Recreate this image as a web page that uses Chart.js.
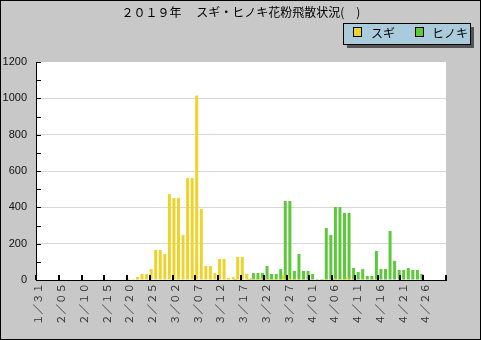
<!DOCTYPE html>
<html><head><meta charset="utf-8">
<script src="https://cdn.jsdelivr.net/npm/chart.js@4/dist/chart.umd.min.js"></script>
<style>html,body{margin:0;padding:0;background:#c8c8c8;overflow:hidden}canvas{display:block}</style>
</head><body>
<canvas id="c" width="481" height="340"></canvas>
<script>
const titleText = '２０１９年　 スギ・ヒノキ花粉飛散状況(　)';
const seriesNames = ['スギ', 'ヒノキ'];
const seriesColors = ['#eed32a', '#5cc83a'];

const categories = [
 '1/31',
 '2/01','2/02','2/03','2/04','2/05','2/06','2/07','2/08','2/09','2/10',
 '2/11','2/12','2/13','2/14','2/15','2/16','2/17','2/18','2/19','2/20',
 '2/21','2/22','2/23','2/24','2/25','2/26','2/27','2/28',
 '3/01','3/02','3/03','3/04','3/05','3/06','3/07','3/08','3/09','3/10',
 '3/11','3/12','3/13','3/14','3/15','3/16','3/17','3/18','3/19','3/20',
 '3/21','3/22','3/23','3/24','3/25','3/26','3/27','3/28','3/29','3/30','3/31',
 '4/01','4/02','4/03','4/04','4/05','4/06','4/07','4/08','4/09','4/10',
 '4/11','4/12','4/13','4/14','4/15','4/16','4/17','4/18','4/19','4/20',
 '4/21','4/22','4/23','4/24','4/25','4/26','4/27','4/28','4/29','4/30'
];

const tickLabels = ['１／３１','２／０５','２／１０','２／１５','２／２０','２／２５','３／０２','３／０７','３／１２',
 '３／１７','３／２２','３／２７','４／０１','４／０６','４／１１','４／１６','４／２１','４／２６'];

const sugi = [
 0,
 0,0,0,0,0,0,0,0,0,0,
 0,0,0,0,0,0,0,0,0,5,
 5,16,33,33,60,165,165,143,
 473,451,451,248,561,561,1015,391,77,77,
 38,116,116,11,16,127,127,33,11,5,
 11,22,5,5,5,27,27,5,5,5,5,
 5,0,0,5,5,11,5,5,16,5,
 3,3,3,3,5,0,0,0,0,0,
 0,0,0,0,0,0,0,0,0,0
];

const hinoki = [
 0,
 0,0,0,0,0,0,0,0,0,0,
 0,0,0,0,0,0,0,0,0,0,
 0,0,0,0,0,0,0,0,
 0,0,0,0,0,0,0,0,0,0,
 0,0,0,0,5,0,0,5,38,38,
 38,77,33,33,60,435,435,50,143,50,50,
 33,5,5,286,248,402,402,369,369,66,
 44,60,22,22,160,60,60,270,105,55,
 55,66,55,55,33,0,0,0,0,0
];

const yMin = 0, yMax = 1200, yStep = 200, yMinorStep = 100;

const decor = {
  id: 'decor',
  beforeDraw(chart) {
    const ctx = chart.ctx, a = chart.chartArea;
    ctx.save();
    ctx.fillStyle = '#c8c8c8';
    ctx.fillRect(0, 0, chart.width, chart.height);
    ctx.fillStyle = '#ffffff';
    ctx.fillRect(a.left, a.top, a.right - a.left, a.bottom - a.top);
    ctx.restore();
  },
  afterDraw(chart) {
    const ctx = chart.ctx, a = chart.chartArea;
    const xs = chart.scales.x, ys = chart.scales.y;
    ctx.save();
    ctx.strokeStyle = '#000';
    ctx.lineWidth = 1;
    for (let v = yMin; v <= yMax; v += yMinorStep) {
      const py = Math.round(ys.getPixelForValue(v)) + 0.5;
      ctx.beginPath();
      ctx.moveTo(a.left, py);
      ctx.lineTo(a.left + 5, py);
      ctx.stroke();
    }
    const w = xs.getPixelForValue(1) - xs.getPixelForValue(0);
    ctx.lineWidth = 2;
    for (let i = 0; i <= categories.length; i += 5) {
      const px = i < categories.length ? xs.getPixelForValue(i) - w / 2 : xs.getPixelForValue(categories.length - 1) + w / 2;
      const rx = Math.round(px);
      ctx.beginPath();
      ctx.moveTo(rx, a.bottom);
      ctx.lineTo(rx, a.bottom - 5);
      ctx.stroke();
    }
    ctx.fillStyle = '#000';
    ctx.font = '12px "Noto Sans CJK JP"';
    ctx.textAlign = 'center';
    ctx.textBaseline = 'middle';
    ctx.fillText(titleText, 241, 12);
    ctx.fillStyle = '#555555';
    ctx.fillRect(347, 27, 127, 21);
    ctx.fillStyle = '#a9cbdb';
    ctx.fillRect(343, 23, 127, 21);
    ctx.strokeStyle = '#000';
    ctx.lineWidth = 1;
    ctx.strokeRect(343.5, 23.5, 127, 21);
    const items = [{x: 353, tx: 371}, {x: 415, tx: 432}];
    ctx.textAlign = 'left';
    ctx.font = '12px "Noto Sans CJK JP"';
    items.forEach((it, k) => {
      ctx.fillStyle = seriesColors[k];
      ctx.fillRect(it.x + 0.5, 27.5, 8, 9);
      ctx.strokeRect(it.x + 0.5, 27.5, 8, 9);
      ctx.fillStyle = '#000';
      ctx.fillText(seriesNames[k], it.tx, 33);
    });
    ctx.strokeStyle = '#000';
    ctx.lineWidth = 1;
    ctx.strokeRect(0.5, 0.5, chart.width - 1, chart.height - 1);
    ctx.restore();
  }
};

new Chart(document.getElementById('c'), {
  type: 'bar',
  data: {
    labels: categories,
    datasets: [
      {label: seriesNames[0], data: sugi, backgroundColor: seriesColors[0], borderWidth: 0,
       barPercentage: 1.5, categoryPercentage: 0.88},
      {label: seriesNames[1], data: hinoki, backgroundColor: seriesColors[1], borderWidth: 0,
       barPercentage: 1.5, categoryPercentage: 0.88}
    ]
  },
  options: {
    responsive: false,
    animation: false,
    devicePixelRatio: 1,
    layout: {padding: {top: 62, right: 35, left: 0, bottom: 0}},
    plugins: {legend: {display: false}, title: {display: false}, tooltip: {enabled: false}},
    scales: {
      x: {
        type: 'category',
        offset: true,
        grid: {display: true, drawOnChartArea: false, drawTicks: false},
        border: {display: true, color: '#000', width: 1},
        ticks: {
          autoSkip: false, maxRotation: 90, minRotation: 90, padding: 3,
          color: '#333',
          font: {family: '"Noto Sans CJK JP"', size: 10.5},
          callback: (v, idx) => idx % 5 === 0 ? tickLabels[idx / 5] : ''
        },
        afterFit: s => { s.height = 60; }
      },
      y: {
        min: yMin, max: yMax,
        grid: {
          drawTicks: false,
          color: c => (c.tick && (c.tick.value === yMin || c.tick.value === yMax)) ? 'rgba(0,0,0,0)' : '#d8d8d8'
        },
        border: {display: true, color: '#000', width: 1},
        ticks: {stepSize: yStep, padding: 9, color: '#111', font: {family: '"Liberation Sans"', size: 11},
          callback: v => String(v)},
        afterFit: s => { s.width = 36; }
      }
    }
  },
  plugins: [decor]
});
</script>
</body></html>
